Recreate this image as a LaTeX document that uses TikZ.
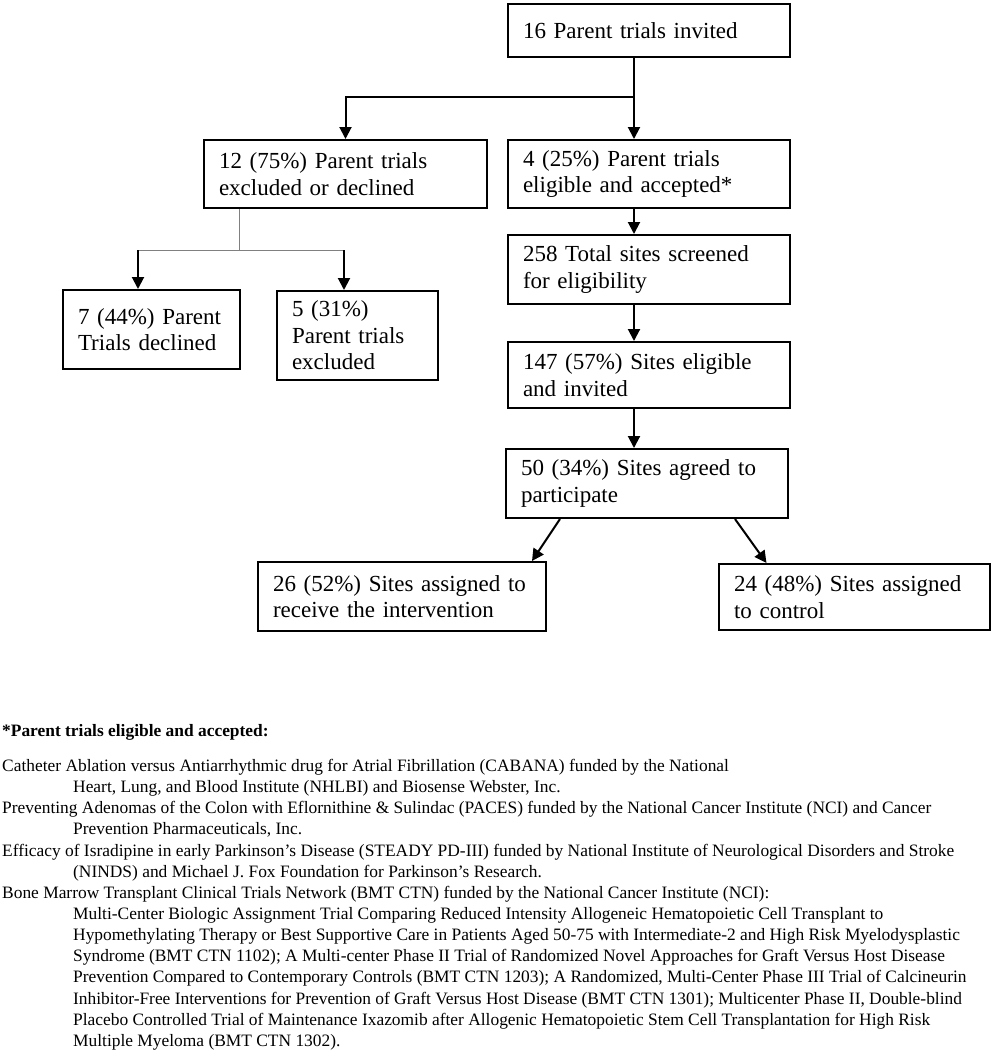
\documentclass[tikz,border=0pt]{standalone}
\usepackage{fontspec}
\setmainfont{Liberation Serif}
\usetikzlibrary{arrows.meta}
\newcommand{\boxfont}{\fontsize{23}{26.5}\selectfont}
\newcommand{\notefont}{\fontsize{17.4}{21.15}\selectfont}
\newcommand{\ind}{\hspace*{71pt}}

\begin{document}
\begin{tikzpicture}[x=1pt,y=-1pt]
                        \tikzstyle{trialbox}=[draw, line width=2pt, anchor=north west, align=left, inner xsep=15pt, inner ysep=0pt, font=\boxfont]
                        \tikzstyle{flow}=[line width=2pt, -{Triangle[length=12pt,width=12pt]}]
                        \tikzstyle{thinline}=[gray, line width=0.8pt]
                        \useasboundingbox (0,0) rectangle (991,1050);
                        \node[trialbox, text width=252pt, minimum height=53pt] (invited) at (507,3) {16 Parent trials invited};
                        \node[trialbox, text width=253pt, minimum height=68pt] (excl) at (203,139) {12 (75\%) Parent trials\\excluded or declined};
                        \node[trialbox, text width=252pt, minimum height=68pt] (acc) at (507,139) {4 (25\%) Parent trials\\eligible and accepted*};
                        \node[trialbox, text width=147pt, minimum height=79pt] (decl) at (62,289) {7 (44\%) Parent\\Trials declined};
                        \node[trialbox, text width=131pt, minimum height=89pt] (exclu) at (276,290) {5 (31\%)\\Parent trials\\excluded};
                        \node[trialbox, text width=252pt, minimum height=69pt] (screen) at (507,234) {258 Total sites screened\\for eligibility};
                        \node[trialbox, text width=252pt, minimum height=66pt] (elig) at (507,341) {147 (57\%) Sites eligible\\and invited};
                        \node[trialbox, text width=252pt, minimum height=69pt] (agreed) at (505,448) {50 (34\%) Sites agreed to\\participate};
                        \node[trialbox, text width=258pt, minimum height=69pt] (interv) at (257,561) {26 (52\%) Sites assigned to\\receive the intervention};
                        \node[trialbox, text width=241pt, minimum height=66pt] (ctrl) at (718,563) {24 (48\%) Sites assigned\\to control};
                        \coordinate (trunk) at (634,97);
                        \coordinate (fork) at (239,250);
                        \coordinate (forkl) at (138,250);
                        \coordinate (forkr) at (344,250);
                        \draw[line width=2pt] (invited.south -| trunk) -- (trunk);
                        \draw[flow] (trunk) -- (acc.north -| trunk);
                        \draw[flow] (trunk) -| (excl.north);
                        \draw[flow] (acc.south -| trunk) -- (screen.north -| trunk);
                        \draw[flow] (screen.south -| trunk) -- (elig.north -| trunk);
                        \draw[flow] (elig.south -| trunk) -- (agreed.north -| trunk);
                        \draw[thinline] (excl.south -| fork) -- (fork);
                        \draw[thinline] (forkl) -- (forkr);
                        \draw[flow] (forkl) -- (forkl |- decl.north);
                        \draw[flow] (forkr) -- (forkr |- exclu.north);
                        \draw[flow] ([xshift=-87pt]agreed.south) -- ([xshift=130pt]interv.north);
                        \draw[flow] ([xshift=88pt]agreed.south) -- ([xshift=-88pt]ctrl.north);
                        \node[anchor=west, inner sep=0pt, font=\notefont\bfseries] (notehead) at (2,732) {*Parent trials eligible and accepted:};
                        \node[anchor=north west, align=left, inner sep=0pt, font=\notefont] (notes) at (2,759) {Catheter Ablation versus Antiarrhythmic drug for Atrial Fibrillation (CABANA) funded by the National\\
                            \ind Heart, Lung, and Blood Institute (NHLBI) and Biosense Webster, Inc.\\
                            Preventing Adenomas of the Colon with Eflornithine \& Sulindac (PACES) funded by the National Cancer Institute (NCI) and Cancer\\
                            \ind Prevention Pharmaceuticals, Inc.\\
                            Efficacy of Isradipine in early Parkinson’s Disease (STEADY PD-III) funded by National Institute of Neurological Disorders and Stroke\\
                            \ind (NINDS) and Michael J. Fox Foundation for Parkinson’s Research.\\
                            Bone Marrow Transplant Clinical Trials Network (BMT CTN) funded by the National Cancer Institute (NCI):\\
                            \ind Multi-Center Biologic Assignment Trial Comparing Reduced Intensity Allogeneic Hematopoietic Cell Transplant to\\
                            \ind Hypomethylating Therapy or Best Supportive Care in Patients Aged 50-75 with Intermediate-2 and High Risk Myelodysplastic\\
                            \ind Syndrome (BMT CTN 1102); A Multi-center Phase II Trial of Randomized Novel Approaches for Graft Versus Host Disease\\
                            \ind Prevention Compared to Contemporary Controls (BMT CTN 1203); A Randomized, Multi-Center Phase III Trial of Calcineurin\\
                            \ind Inhibitor-Free Interventions for Prevention of Graft Versus Host Disease (BMT CTN 1301); Multicenter Phase II, Double-blind\\
                            \ind Placebo Controlled Trial of Maintenance Ixazomib after Allogenic Hematopoietic Stem Cell Transplantation for High Risk\\
                            \ind Multiple Myeloma (BMT CTN 1302).};
                    \end{tikzpicture}
\end{document}
